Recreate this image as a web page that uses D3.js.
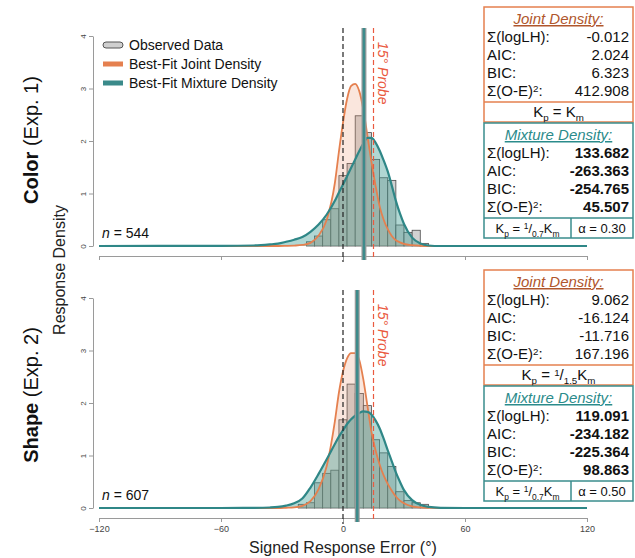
<!DOCTYPE html>
<meta charset="utf-8">
<head>
  <script src="https://d3js.org/d3.v7.min.js"></script>
  <style>
    body { margin: 0; background: #fff; }
    text { font-family: "Liberation Sans", Arial, Helvetica, sans-serif; }
  </style>
</head>
<body>
<div id="display"></div>
<script>
// histogram bins (4 deg wide), density per radian
var binCenters = [-20, -16, -12, -8, -4, 0, 4, 8, 12, 16, 20, 24, 28, 32, 36, 40];
var colorObs = [0, 0.08, 0.19, 0.50, 0.71, 1.34, 1.57, 2.48, 2.16, 1.65, 1.30, 1.25, 0.40, 0.26, 0.30, 0.05];
var shapeObs = [0.07, 0.10, 0.48, 0.66, 0.72, 1.68, 2.36, 2.18, 1.95, 1.30, 1.05, 0.79, 0.31, 0.14, 0.10, 0.07];

var curveDeg = [-120, -60, -44, -36, -32, -28, -24, -20, -16, -12, -8, -4, -2, 0, 2, 4, 6, 8, 10, 12, 14, 16, 18, 20, 22, 24, 26, 28, 30, 34, 38, 42, 48, 60, 120];
var colorJoint = [0, 0, 0, 0, 0, 0.003, 0.008, 0.02, 0.06, 0.2, 0.5, 1.2, 1.8, 2.35, 2.8, 3.05, 3.09, 2.95, 2.6, 2.1, 1.6, 1.15, 0.76, 0.5, 0.32, 0.19, 0.11, 0.07, 0.04, 0.015, 0.005, 0, 0, 0, 0];
var colorMixture = [0, 0.002, 0.01, 0.03, 0.045, 0.08, 0.12, 0.17, 0.27, 0.41, 0.6, 0.86, 1.02, 1.17, 1.33, 1.49, 1.65, 1.81, 1.95, 2.06, 2.06, 1.97, 1.82, 1.63, 1.42, 1.15, 0.86, 0.62, 0.42, 0.16, 0.05, 0.01, 0, 0, 0];
var shapeJoint = [0, 0, 0, 0, 0, 0.005, 0.012, 0.04, 0.13, 0.36, 0.8, 1.65, 2.2, 2.6, 2.85, 2.95, 2.95, 2.82, 2.45, 1.95, 1.45, 1.1, 0.83, 0.62, 0.46, 0.33, 0.22, 0.14, 0.09, 0.03, 0.01, 0.003, 0, 0, 0];
var shapeMixture = [0, 0, 0.003, 0.01, 0.02, 0.045, 0.09, 0.18, 0.39, 0.65, 0.93, 1.22, 1.36, 1.48, 1.6, 1.69, 1.76, 1.81, 1.84, 1.83, 1.78, 1.67, 1.52, 1.32, 1.1, 0.89, 0.68, 0.5, 0.34, 0.15, 0.06, 0.02, 0.004, 0, 0];

var probeDeg = 15;
var meanDeg = [10.3, 7];
var sampleN = [544, 607];
var panelNames = [["Color", " (Exp. 1)"], ["Shape", " (Exp. 2)"]];

var xTicks = [-120, -60, 0, 60, 120];
var yTicks = [0, 1, 2, 3, 4];

var statLabels = ["Σ(logLH):", "AIC:", "BIC:", "Σ(O-E)"];
var colorJointStats = ["-0.012", "2.024", "6.323", "412.908"];
var colorMixStats = ["133.682", "-263.363", "-254.765", "45.507"];
var shapeJointStats = ["9.062", "-16.124", "-11.716", "167.196"];
var shapeMixStats = ["119.091", "-234.182", "-225.364", "98.863"];
var jointKp = [null, "1.5"];
var mixKp = ["0.7", "0.7"];
var mixAlpha = ["0.30", "0.50"];

var legendLabels = ["Observed Data", "Best-Fit Joint Density", "Best-Fit Mixture Density"];

var ORANGE = "#e5804f", TEAL = "#2f8787", RED = "#ea5a40";

var W = 635, H = 558;
var svg = d3.select("#display").append("svg")
    .attr("width", W).attr("height", H);

var x = d3.scaleLinear().domain([-120, 120]).range([99, 587]);

var panels = [
  {obs: colorObs, joint: colorJoint, mix: colorMixture, js: colorJointStats, ms: colorMixStats, y0: 246, boxTop: [7, 123], axisY: 256, labels: false},
  {obs: shapeObs, joint: shapeJoint, mix: shapeMixture, js: shapeJointStats, ms: shapeMixStats, y0: 508, boxTop: [270, 386], axisY: 518, labels: true}
];

panels.forEach(function(p, i) {
  var y = d3.scaleLinear().domain([0, 4]).range([p.y0, p.y0 - 210]);
  var g = svg.append("g");

  // y axis
  var ya = g.append("g").attr("transform", "translate(93,0)")
      .call(d3.axisLeft(y).tickValues(yTicks).tickFormat(d3.format("d")).tickSize(4).tickSizeOuter(0));
  ya.selectAll("path, line").attr("stroke", "#9a9a9a");
  ya.selectAll("text").attr("transform", "rotate(-90)")
      .attr("x", 0).attr("y", -7).attr("dy", 0)
      .attr("text-anchor", "middle").style("font-size", "8px").attr("fill", "#444");

  // x axis
  var xa = g.append("g").attr("transform", "translate(0," + p.axisY + ")")
      .call(d3.axisBottom(x).tickValues(xTicks).tickSize(4).tickSizeOuter(0));
  xa.selectAll("path, line").attr("stroke", "#9a9a9a");
  if (p.labels) {
    xa.selectAll("text").style("font-size", "9px").attr("fill", "#444").attr("y", 8);
  } else {
    xa.selectAll("text").remove();
  }

  // histogram
  g.append("g").selectAll("rect")
    .data(binCenters.map(function(c, k) { return {c: c, v: p.obs[k]}; }).filter(function(d) { return d.v > 0; }))
    .enter().append("rect")
      .attr("x", function(d) { return x(d.c - 2); })
      .attr("width", function(d) { return x(d.c + 2) - x(d.c - 2); })
      .attr("y", function(d) { return y(d.v); })
      .attr("height", function(d) { return y(0) - y(d.v); })
      .attr("fill", "#d2d2d2").attr("stroke", "#4a4a4a").attr("stroke-width", 0.8);

  var jointPts = curveDeg.map(function(d, k) { return [d, p.joint[k]]; });
  var mixPts = curveDeg.map(function(d, k) { return [d, p.mix[k]]; });
  var area = d3.area().x(function(d) { return x(d[0]); }).y0(y(0)).y1(function(d) { return y(d[1]); }).curve(d3.curveMonotoneX);
  var line = d3.line().x(function(d) { return x(d[0]); }).y(function(d) { return y(d[1]); }).curve(d3.curveMonotoneX);

  g.append("path").attr("d", area(jointPts)).attr("fill", "rgba(232,140,100,0.22)");
  g.append("path").attr("d", area(mixPts)).attr("fill", "rgba(70,160,150,0.42)");
  g.append("path").attr("d", line(jointPts)).attr("fill", "none").attr("stroke", ORANGE).attr("stroke-width", 1.8);
  g.append("path").attr("d", line(mixPts)).attr("fill", "none").attr("stroke", TEAL).attr("stroke-width", 2.2);

  // reference lines
  var top = p.y0 - 218;
  g.append("line").attr("x1", x(0)).attr("x2", x(0)).attr("y1", top).attr("y2", p.axisY + 6)
    .attr("stroke", "#222").attr("stroke-width", 1.2).attr("stroke-dasharray", "5,3");
  g.append("line").attr("x1", x(probeDeg)).attr("x2", x(probeDeg)).attr("y1", top).attr("y2", p.axisY + 4)
    .attr("stroke", RED).attr("stroke-width", 1.2).attr("stroke-dasharray", "5,3");
  g.append("line").attr("x1", x(meanDeg[i])).attr("x2", x(meanDeg[i])).attr("y1", top).attr("y2", p.axisY + 4)
    .attr("stroke", "#9c9c9c").attr("stroke-width", 5);
  g.append("line").attr("x1", x(meanDeg[i])).attr("x2", x(meanDeg[i])).attr("y1", top).attr("y2", p.axisY + 4)
    .attr("stroke", "#3d8b8b").attr("stroke-width", 2.6);

  var px = x(probeDeg) + 4, py = top + 14;
  g.append("text").attr("transform", "translate(" + px + "," + py + ") rotate(90)")
    .style("font-size", "14px").style("font-style", "italic").attr("fill", RED)
    .text("15° Probe");

  // n label
  var nt = g.append("text").attr("x", 102).attr("y", p.y0 - 8).style("font-size", "14px").attr("fill", "#111");
  nt.append("tspan").style("font-style", "italic").text("n");
  nt.append("tspan").text(" = " + sampleN[i]);

  // panel title
  var cy = i === 0 ? 140 : 395;
  var tt = svg.append("text").attr("transform", "translate(38," + cy + ") rotate(-90)")
    .attr("text-anchor", "middle").style("font-size", "20px").attr("fill", "#111");
  tt.append("tspan").style("font-weight", "bold").text(panelNames[i][0]);
  tt.append("tspan").text(panelNames[i][1]);

  // stat boxes
  drawBox(p.boxTop[0], "Joint Density:", ORANGE, "#b0562c", p.js, false, i, true);
  drawBox(p.boxTop[1], "Mixture Density:", "#3a8d8d", "#2b8b8b", p.ms, true, i, false);
});

// segments: [text, level] with level 0 normal, 1 subscript, -1 superscript
function richText(t, segs, size) {
  t.style("font-size", size + "px");
  var cur = 0, s = size * 0.28;
  segs.forEach(function(sg) {
    var off = sg[1] * s;
    t.append("tspan").attr("dy", off - cur)
      .style("font-size", (sg[1] ? size * 0.65 : size) + "px").text(sg[0]);
    cur = off;
  });
}

function kpSegs(frac) {
  var segs = [["K", 0], ["p", 1]];
  if (frac) segs = segs.concat([[" = ", 0], ["1", -1], ["/", 0], [frac, 1], ["K", 0]]);
  else segs.push([" = K", 0]);
  segs.push(["m", 1]);
  return segs;
}

function drawBox(T, title, stroke, titleColor, stats, bold, i, isJoint) {
  var bx = 484, bw = 149, bh = 115;
  var g = svg.append("g");
  g.append("rect").attr("x", bx).attr("y", T).attr("width", bw).attr("height", bh)
    .attr("fill", "#fff").attr("stroke", stroke).attr("stroke-width", 1.5);
  g.append("line").attr("x1", bx).attr("x2", bx + bw).attr("y1", T + 95).attr("y2", T + 95)
    .attr("stroke", stroke).attr("stroke-width", 1.5);
  g.append("text").attr("x", bx + bw / 2).attr("y", T + 17).attr("text-anchor", "middle")
    .style("font-size", "15px").style("font-style", "italic").style("text-decoration", "underline")
    .attr("fill", titleColor).text(title);
  statLabels.forEach(function(l, k) {
    var yy = T + 35 + k * 18;
    var lt = g.append("text").attr("x", bx + 3).attr("y", yy).attr("fill", "#111");
    if (k === 3) richText(lt, [[l, 0], ["2", -1], [":", 0]], 15);
    else lt.style("font-size", "15px").text(l);
    g.append("text").attr("x", bx + bw - 4).attr("y", yy).attr("text-anchor", "end")
      .style("font-size", "15px").style("font-weight", bold ? "bold" : "normal").attr("fill", "#111")
      .text(stats[k]);
  });
  if (isJoint) {
    var t = g.append("text").attr("x", bx + bw / 2).attr("y", T + 110).attr("text-anchor", "middle").attr("fill", "#111");
    richText(t, kpSegs(jointKp[i]), 15);
  } else {
    var div = 571;
    g.append("line").attr("x1", div).attr("x2", div).attr("y1", T + 95).attr("y2", T + bh)
      .attr("stroke", stroke).attr("stroke-width", 1.5);
    var t2 = g.append("text").attr("x", (bx + div) / 2).attr("y", T + 110).attr("text-anchor", "middle").attr("fill", "#111");
    richText(t2, kpSegs(mixKp[i]), 13);
    g.append("text").attr("x", (div + bx + bw) / 2).attr("y", T + 110).attr("text-anchor", "middle")
      .style("font-size", "13px").attr("fill", "#111").text("α = " + mixAlpha[i]);
  }
}

// legend
var lg = svg.append("g");
legendLabels.forEach(function(l, k) {
  var yy = 45 + k * 19;
  if (k === 0) {
    lg.append("rect").attr("x", 103).attr("y", yy - 3).attr("width", 20).attr("height", 6).attr("rx", 3)
      .attr("fill", "#cfcfcf").attr("stroke", "#555").attr("stroke-width", 1);
  } else {
    lg.append("rect").attr("x", 103).attr("y", yy - 2.5).attr("width", 20).attr("height", 5)
      .attr("fill", k === 1 ? ORANGE : "#3a8a8a");
  }
  lg.append("text").attr("x", 129).attr("y", yy + 5).style("font-size", "14px").attr("fill", "#111").text(l);
});

// shared axis titles
svg.append("text").attr("transform", "translate(65,270) rotate(-90)").attr("text-anchor", "middle")
  .style("font-size", "16px").attr("fill", "#222").text("Response Density");
svg.append("text").attr("x", 343).attr("y", 553).attr("text-anchor", "middle")
  .style("font-size", "16px").attr("fill", "#222").text("Signed Response Error (°)");
</script>
</body>
